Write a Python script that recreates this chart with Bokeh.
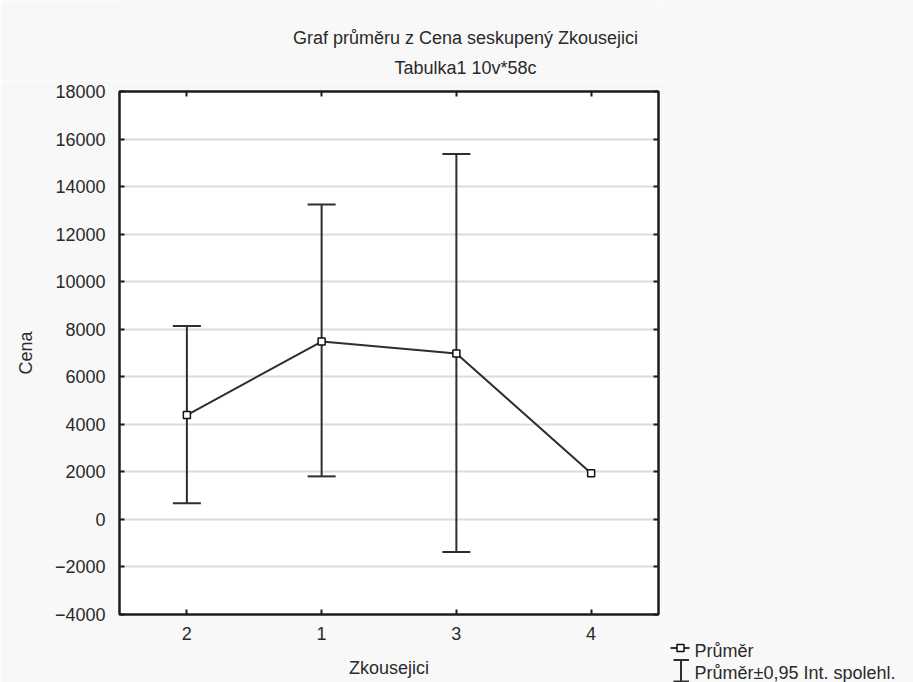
from bokeh.plotting import figure
from bokeh.layouts import column, row
from bokeh.models import (FactorRange, Range1d, LinearAxis, CategoricalAxis,
                          SingleIntervalTicker, Whisker, TeeHead, ColumnDataSource)
from bokeh.core.properties import value
from bokeh.embed import file_html
from bokeh.resources import INLINE

# ---- data ----
groups = ["2", "1", "3", "4"]
means = [4390, 7480, 6980, 1940]
ci_groups = ["2", "1", "3"]
ci_upper = [8140, 13250, 15370]
ci_lower = [680, 1810, -1370]

title_lines = ["Graf průměru z Cena seskupený Zkousejici", "Tabulka1 10v*58c"]
x_label = "Zkousejici"
y_label = "Cena"
legend_labels = ["Průměr", "Průměr±0,95 Int. spolehl."]

FONT = "Liberation Sans"
TXT = "#2a2a2a"
LINE = "#2e2e2e"
FRAME = "#1c1c1c"
BG = "#f8f8f8"
FS = "18px"

W, H = 913, 682
FL, FR = 119, 658     # frame left / right edge on the page
TITLE_H = 80          # height of the title strip
MAIN_W = 663          # main plot width (frame right edge at 658)
SIDE_W = W - MAIN_W
BODY_H = H - TITLE_H


def blank(width, height, x0, x1, bl=0, br=0):
    f = figure(width=width, height=height,
               x_range=Range1d(x0, x1), y_range=Range1d(height, 0),
               output_backend="svg", toolbar_location=None,
               x_axis_type=None, y_axis_type=None,
               min_border=0, min_border_left=bl, min_border_right=br,
               min_border_top=0, min_border_bottom=0,
               background_fill_color=BG, border_fill_color=BG,
               outline_line_color=None)
    f.xgrid.visible = False
    f.ygrid.visible = False
    return f


# ---------------- title strip (above the plot, frame aligned with the plot's) ----------------
tp = blank(MAIN_W, TITLE_H, FL, FR, bl=FL, br=MAIN_W - FR)
tp.text(x=[465, 465], y=[37, 67], text=title_lines,
        text_align="center", text_baseline="alphabetic",
        text_font=value(FONT), text_font_size=value(FS), text_color=TXT)

# ---------------- main plot ----------------
p = figure(width=MAIN_W, height=BODY_H,
           x_range=FactorRange(*groups, range_padding=0, factor_padding=0),
           y_range=Range1d(-4000, 18000),
           output_backend="svg", toolbar_location=None,
           min_border_left=FL, min_border_right=MAIN_W - FR,
           min_border_top=11, min_border_bottom=68,
           background_fill_color="white", border_fill_color=BG,
           outline_line_color=FRAME, outline_line_width=2)

ticker = SingleIntervalTicker(interval=2000, num_minor_ticks=0)

xa = p.xaxis[0]
xa.major_tick_in = 5
xa.major_tick_out = 0
xa.minor_tick_line_color = None
xa.axis_line_color = FRAME
xa.axis_line_width = 2
xa.major_tick_line_color = FRAME
xa.major_tick_line_width = 2
xa.major_label_text_font = FONT
xa.major_label_text_font_size = FS
xa.major_label_text_color = TXT
xa.major_label_standoff = 12
xa.axis_label = x_label
xa.axis_label_text_font = FONT
xa.axis_label_text_font_size = FS
xa.axis_label_text_font_style = "normal"
xa.axis_label_text_color = TXT
xa.axis_label_standoff = 15

ya = p.yaxis[0]
ya.ticker = ticker
ya.major_tick_in = 5
ya.major_tick_out = 0
ya.minor_tick_line_color = None
ya.axis_line_color = FRAME
ya.axis_line_width = 2
ya.major_tick_line_color = FRAME
ya.major_tick_line_width = 2
ya.major_label_text_font = FONT
ya.major_label_text_font_size = FS
ya.major_label_text_color = TXT
ya.major_label_standoff = 14
ya.axis_label = y_label
ya.axis_label_text_font = FONT
ya.axis_label_text_font_size = FS
ya.axis_label_text_font_style = "normal"
ya.axis_label_text_color = TXT
ya.axis_label_standoff = 16

# right and top axes: inward ticks only, no labels drawn
ra = LinearAxis(ticker=ticker, major_tick_in=5, major_tick_out=0,
                major_label_text_font_size="0px", major_label_text_color=None,
                major_label_standoff=0,
                axis_line_color=FRAME, axis_line_width=2,
                major_tick_line_color=FRAME, major_tick_line_width=2,
                minor_tick_line_color=None)
p.add_layout(ra, "right")
ta = CategoricalAxis(major_tick_in=5, major_tick_out=0,
                     major_label_text_font_size="0px", major_label_text_color=None,
                     major_label_standoff=0,
                     axis_line_color=FRAME, axis_line_width=2,
                     major_tick_line_color=FRAME, major_tick_line_width=2)
p.add_layout(ta, "above")

p.xgrid.grid_line_color = None
p.ygrid.ticker = ticker
p.ygrid.grid_line_color = "#dcdcdc"
p.ygrid.grid_line_width = 2

ci_src = ColumnDataSource(dict(g=ci_groups, u=ci_upper, l=ci_lower))
wh = Whisker(base="g", upper="u", lower="l", source=ci_src,
             line_color=LINE, line_width=2,
             upper_head=TeeHead(size=28, line_color=LINE, line_width=2),
             lower_head=TeeHead(size=28, line_color=LINE, line_width=2))
p.add_layout(wh)

src = ColumnDataSource(dict(g=groups, m=means))
p.line("g", "m", source=src, line_color=LINE, line_width=2)
p.scatter("g", "m", source=src, marker="square", size=7,
          fill_color="white", line_color="#111111", line_width=1.5)

# ---------------- legend strip (full height, right of the plot) ----------------
sp = blank(SIDE_W, H, MAIN_W, W)

# item 1: line with square marker
sp.segment(x0=[670], y0=[647.5], x1=[689], y1=[647.5],
           line_color=LINE, line_width=2)
sp.scatter(x=[680], y=[647.5], marker="square", size=7,
           fill_color="white", line_color="#111111", line_width=1.5)
# item 2: error bar symbol
sp.segment(x0=[680.5, 673, 673], y0=[659.5, 659.5, 681],
           x1=[680.5, 688.5, 688.5], y1=[681, 659.5, 681],
           line_color=LINE, line_width=2)
sp.text(x=[694, 694], y=[650, 672], text=legend_labels,
        text_align="left", text_baseline="alphabetic",
        text_font=value(FONT), text_font_size=value(FS), text_color=TXT)

layout = row(column(tp, p, spacing=0), sp, spacing=0)
open("out.html", "w").write(file_html(layout, INLINE))
